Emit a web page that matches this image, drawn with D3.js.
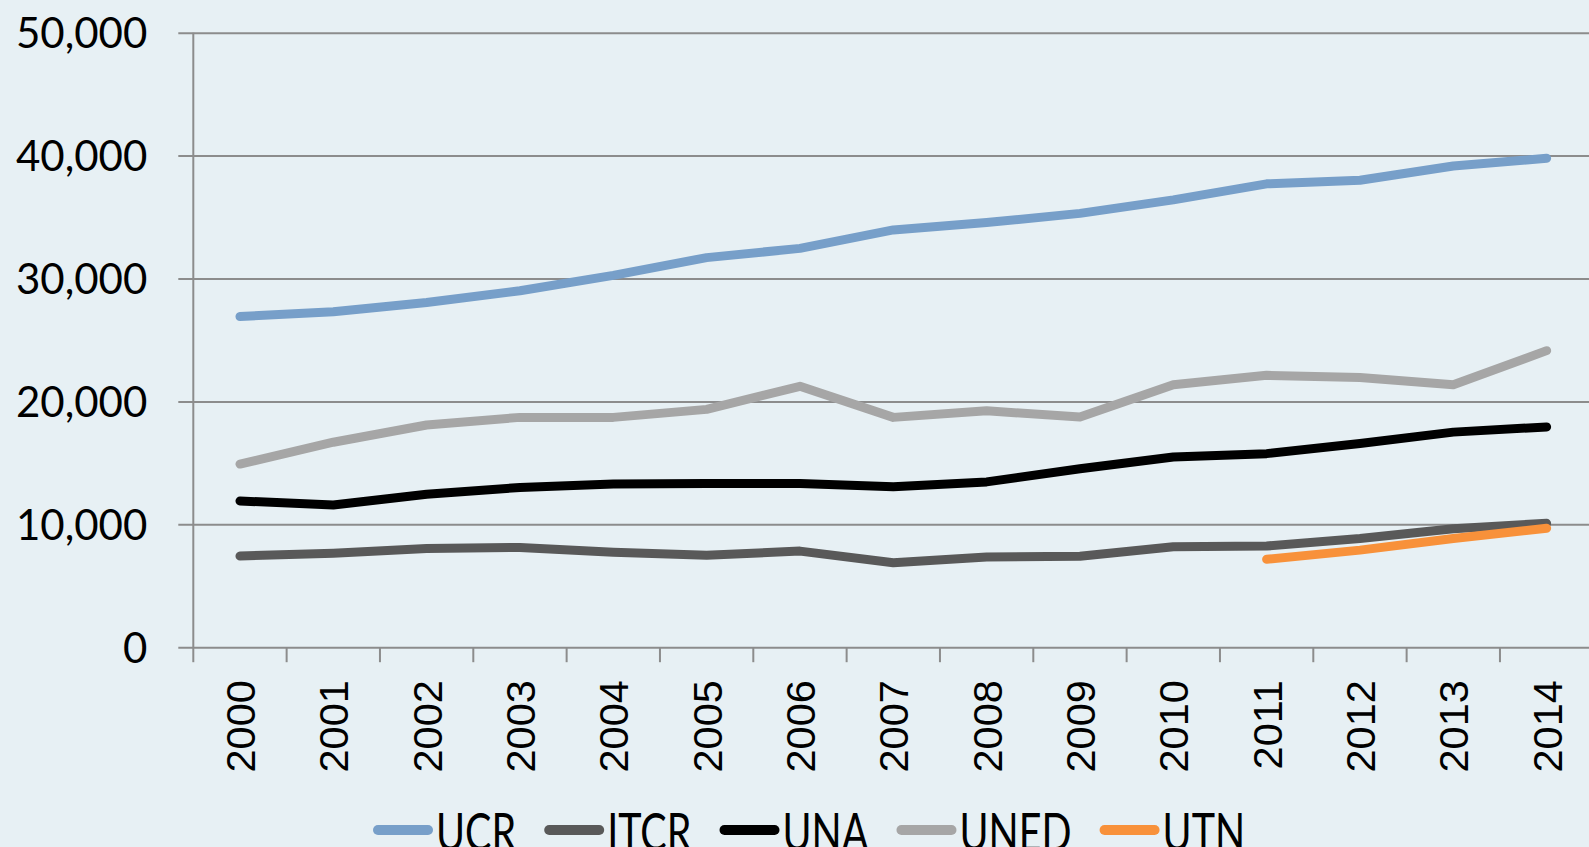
<!DOCTYPE html>
<html>
<head>
<meta charset="utf-8">
<script src="https://cdn.jsdelivr.net/npm/d3@7"></script>
<style>
  html, body { margin: 0; padding: 0; background: #e8f1f5; overflow: hidden; }
  svg { display: block; }
</style>
</head>
<body>
<div id="chart"></div>
<script>
// Data
var years = ['2000', '2001', '2002', '2003', '2004', '2005', '2006', '2007',
             '2008', '2009', '2010', '2011', '2012', '2013', '2014'];
var ucr  = [26900, 27300, 28050, 29000, 30250, 31700, 32450, 33950, 34550, 35300, 36400, 37700, 38000, 39150, 39780];
var itcr = [7420, 7650, 8030, 8120, 7720, 7480, 7820, 6870, 7340, 7400, 8180, 8230, 8850, 9640, 10080];
var una  = [11900, 11570, 12450, 13000, 13270, 13320, 13320, 13050, 13450, 14520, 15480, 15750, 16580, 17500, 17920];
var uned = [14900, 16680, 18080, 18700, 18700, 19350, 21230, 18700, 19230, 18730, 21350, 22120, 21950, 21350, 24130];
var utn  = [null, null, null, null, null, null, null, null, null, null, null, 7150, 7900, 8850, 9680];
var yTicks = [0, 10000, 20000, 30000, 40000, 50000];

var series = [
  { name: 'UCR',  values: ucr,  color: '#779fc9' },
  { name: 'ITCR', values: itcr, color: '#595959' },
  { name: 'UNA',  values: una,  color: '#000000' },
  { name: 'UNED', values: uned, color: '#a6a6a6' },
  { name: 'UTN',  values: utn,  color: '#f8913a' }
];

var width = 1589, height = 847;
var svg = d3.select('#chart').append('svg')
  .attr('width', width)
  .attr('height', height);

svg.append('rect')
  .attr('width', width).attr('height', height)
  .attr('fill', '#e7f0f4');

var plotLeft = 193.3, plotTop = 32.7, plotBottom = 647.2;
var x = d3.scaleBand().domain(years).range([plotLeft, plotLeft + 1400]).padding(0);
var y = d3.scaleLinear().domain([0, 50000]).range([plotBottom, plotTop]);

// gridlines + y labels
var yAxis = d3.axisLeft(y)
  .tickValues(yTicks)
  .tickSize(-(width - plotLeft + 20))
  .tickFormat(d3.format(','));

var gy = svg.append('g')
  .attr('transform', 'translate(' + (plotLeft - 15) + ',0)')
  .call(yAxis);
gy.select('.domain').remove();
gy.selectAll('.tick line')
  .attr('stroke', '#8c8c8c')
  .attr('stroke-width', 2);
gy.selectAll('.tick text')
  .attr('x', -31)
  .attr('dy', '0.36em')
  .style('font-family', 'Lato, sans-serif')
  .style('font-size', '42px')
  .attr('fill', '#000');

// vertical axis line
svg.append('line')
  .attr('x1', plotLeft).attr('x2', plotLeft)
  .attr('y1', plotTop).attr('y2', plotBottom)
  .attr('stroke', '#8c8c8c')
  .attr('stroke-width', 2);

// x axis ticks at band edges
var edges = years.map(function(d) { return x(d); });
svg.selectAll('.xtick').data(edges).enter().append('line')
  .attr('x1', function(d) { return d; })
  .attr('x2', function(d) { return d; })
  .attr('y1', plotBottom)
  .attr('y2', plotBottom + 15)
  .attr('stroke', '#8c8c8c')
  .attr('stroke-width', 2);

svg.selectAll('.xlabel').data(years).enter().append('text')
  .attr('transform', function(d) {
    return 'translate(' + (x(d) + x.bandwidth() / 2 + 15) + ',' + (plotBottom + 33) + ') rotate(-90)';
  })
  .attr('text-anchor', 'end')
  .style('font-family', '"Liberation Sans", Arial, sans-serif')
  .style('font-size', '41.5px')
  .attr('fill', '#000')
  .text(function(d) { return d; });

// lines
var line = d3.line()
  .defined(function(d) { return d.v != null; })
  .x(function(d) { return x(d.year) + x.bandwidth() / 2; })
  .y(function(d) { return y(d.v); });

series.forEach(function(s) {
  var pts = years.map(function(yr, i) { return { year: yr, v: s.values[i] }; });
  svg.append('path')
    .datum(pts)
    .attr('fill', 'none')
    .attr('stroke', s.color)
    .attr('stroke-width', 9)
    .attr('stroke-linecap', 'round')
    .attr('stroke-linejoin', 'round')
    .attr('d', line);
});

// legend (bottom of text runs past the edge, as in the original)
var legend = svg.append('g');
var lx = 373, ly = 830;
series.forEach(function(s) {
  legend.append('line')
    .attr('x1', lx + 5).attr('x2', lx + 55)
    .attr('y1', ly).attr('y2', ly)
    .attr('stroke', s.color)
    .attr('stroke-width', 10)
    .attr('stroke-linecap', 'round');
  var t = legend.append('text')
    .attr('transform', 'translate(' + (lx + 63) + ',' + (ly + 21) + ') scale(0.76,1)')
    .style('font-family', 'Lato, sans-serif')
    .style('font-size', '52px')
    .attr('fill', '#000')
    .text(s.name);
  var w = t.node().getComputedTextLength() * 0.76;
  lx = lx + 63 + w + 28;
});
</script>
</body>
</html>
